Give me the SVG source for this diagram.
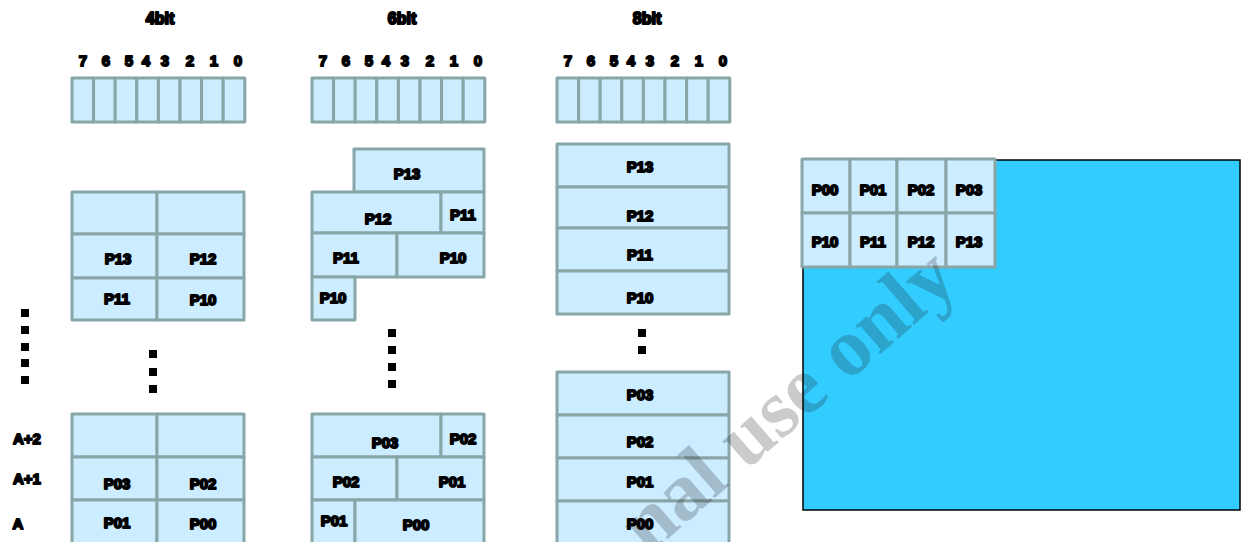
<svg xmlns="http://www.w3.org/2000/svg" width="1243" height="542" viewBox="0 0 1243 542">
<style>
.c{fill:#CCECFF;stroke:#88A5A7;stroke-width:3;stroke-linejoin:round}
.t{font-family:"Liberation Sans",Arial,sans-serif;font-weight:bold;font-size:15px;fill:#000;stroke:#000;stroke-width:1.8;stroke-linejoin:round;text-anchor:middle;dominant-baseline:central}
.h{font-size:16px;stroke-width:2}
.d{fill:#000}
.wm{font-family:"Liberation Serif","Times New Roman",serif;font-weight:bold;font-size:82px;fill:#111;fill-opacity:0.22}
</style>
<rect width="1243" height="542" fill="#fff"/>

<g id="title-4bit"><text class="t h" x="160" y="18">4bit</text></g>
<g id="title-6bit"><text class="t h" x="402" y="18">6bit</text></g>
<g id="title-8bit"><text class="t h" x="647" y="18">8bit</text></g>

<g id="bits-4bit">
<g class="t"><text x="83" y="60">7</text><text x="106" y="60">6</text><text x="129" y="60">5</text><text x="146" y="60">4</text><text x="165" y="60">3</text><text x="190" y="60">2</text><text x="214" y="60">1</text><text x="238" y="60">0</text></g>
<rect class="c" x="72" y="78" width="21.6" height="44"/><rect class="c" x="93.6" y="78" width="21.6" height="44"/><rect class="c" x="115.2" y="78" width="21.6" height="44"/><rect class="c" x="136.8" y="78" width="21.6" height="44"/><rect class="c" x="158.4" y="78" width="21.6" height="44"/><rect class="c" x="180" y="78" width="21.6" height="44"/><rect class="c" x="201.6" y="78" width="21.6" height="44"/><rect class="c" x="223.2" y="78" width="21.6" height="44"/>
</g>
<g id="bits-6bit">
<g class="t"><text x="323" y="60">7</text><text x="346" y="60">6</text><text x="369" y="60">5</text><text x="386" y="60">4</text><text x="405" y="60">3</text><text x="430" y="60">2</text><text x="454" y="60">1</text><text x="478" y="60">0</text></g>
<rect class="c" x="312" y="78" width="21.6" height="44"/><rect class="c" x="333.6" y="78" width="21.6" height="44"/><rect class="c" x="355.2" y="78" width="21.6" height="44"/><rect class="c" x="376.8" y="78" width="21.6" height="44"/><rect class="c" x="398.4" y="78" width="21.6" height="44"/><rect class="c" x="420" y="78" width="21.6" height="44"/><rect class="c" x="441.6" y="78" width="21.6" height="44"/><rect class="c" x="463.2" y="78" width="21.6" height="44"/>
</g>
<g id="bits-8bit">
<g class="t"><text x="568" y="60">7</text><text x="591" y="60">6</text><text x="614" y="60">5</text><text x="631" y="60">4</text><text x="650" y="60">3</text><text x="675" y="60">2</text><text x="699" y="60">1</text><text x="723" y="60">0</text></g>
<rect class="c" x="557" y="78" width="21.6" height="44"/><rect class="c" x="578.6" y="78" width="21.6" height="44"/><rect class="c" x="600.2" y="78" width="21.6" height="44"/><rect class="c" x="621.8" y="78" width="21.6" height="44"/><rect class="c" x="643.4" y="78" width="21.6" height="44"/><rect class="c" x="665" y="78" width="21.6" height="44"/><rect class="c" x="686.6" y="78" width="21.6" height="44"/><rect class="c" x="708.2" y="78" width="21.6" height="44"/>
</g>

<g id="block-4bit-upper">
<rect class="c" x="72" y="192" width="85" height="42"/><rect class="c" x="157" y="192" width="87" height="42"/>
<rect class="c" x="72" y="234" width="85" height="44"/><rect class="c" x="157" y="234" width="87" height="44"/>
<rect class="c" x="72" y="278" width="85" height="42"/><rect class="c" x="157" y="278" width="87" height="42"/>
<g class="t"><text x="118" y="258">P13</text><text x="203" y="258">P12</text><text x="117" y="298">P11</text><text x="203" y="299">P10</text></g>
</g>
<g id="block-4bit-lower">
<rect class="c" x="72" y="414" width="85" height="43"/><rect class="c" x="157" y="414" width="87" height="43"/>
<rect class="c" x="72" y="457" width="85" height="43"/><rect class="c" x="157" y="457" width="87" height="43"/>
<rect class="c" x="72" y="500" width="85" height="44"/><rect class="c" x="157" y="500" width="87" height="44"/>
<g class="t"><text x="117" y="483">P03</text><text x="203" y="483">P02</text><text x="117" y="522">P01</text><text x="203" y="523">P00</text></g>
</g>
<g id="addr-labels" class="t">
<text x="27" y="438">A+2</text><text x="27" y="478">A+1</text><text x="18" y="523">A</text>
</g>

<g id="block-6bit-upper">
<rect class="c" x="354" y="149" width="130" height="43"/>
<rect class="c" x="312" y="192" width="129" height="41"/><rect class="c" x="441" y="192" width="43" height="41"/>
<rect class="c" x="312" y="233" width="85" height="44"/><rect class="c" x="397" y="233" width="87" height="44"/>
<rect class="c" x="312" y="277" width="43" height="43"/>
<g class="t"><text x="407" y="173">P13</text><text x="378" y="218">P12</text><text x="463" y="214">P11</text><text x="346" y="257">P11</text><text x="453" y="257">P10</text><text x="333" y="297">P10</text></g>
</g>
<g id="block-6bit-lower">
<rect class="c" x="312" y="414" width="129" height="43"/><rect class="c" x="441" y="414" width="43" height="43"/>
<rect class="c" x="312" y="457" width="85" height="43"/><rect class="c" x="397" y="457" width="87" height="43"/>
<rect class="c" x="312" y="500" width="43" height="44"/><rect class="c" x="355" y="500" width="129" height="44"/>
<g class="t"><text x="385" y="442">P03</text><text x="463" y="438">P02</text><text x="346" y="481">P02</text><text x="452" y="481">P01</text><text x="334" y="520">P01</text><text x="416" y="524">P00</text></g>
</g>

<g id="block-8bit-upper">
<rect class="c" x="557" y="144" width="172" height="43"/>
<rect class="c" x="557" y="187" width="172" height="41"/>
<rect class="c" x="557" y="228" width="172" height="43"/>
<rect class="c" x="557" y="271" width="172" height="43"/>
<g class="t"><text x="640" y="166">P13</text><text x="640" y="215">P12</text><text x="640" y="254">P11</text><text x="640" y="297">P10</text></g>
</g>
<g id="block-8bit-lower">
<rect class="c" x="557" y="372" width="172" height="43"/>
<rect class="c" x="557" y="415" width="172" height="43"/>
<rect class="c" x="557" y="458" width="172" height="43"/>
<rect class="c" x="557" y="501" width="172" height="44"/>
<g class="t"><text x="640" y="394">P03</text><text x="640" y="441">P02</text><text x="640" y="481">P01</text><text x="640" y="523">P00</text></g>
</g>

<g id="ellipsis-left" class="d">
<rect x="21" y="309" width="8" height="8"/><rect x="21" y="326" width="8" height="8"/><rect x="21" y="343" width="8" height="8"/><rect x="21" y="359" width="8" height="8"/><rect x="21" y="376" width="8" height="8"/>
</g>
<g id="ellipsis-4bit" class="d">
<rect x="149" y="350" width="8" height="8"/><rect x="149" y="368" width="8" height="8"/><rect x="149" y="385" width="8" height="8"/>
</g>
<g id="ellipsis-6bit" class="d">
<rect x="388" y="329" width="8" height="8"/><rect x="388" y="346" width="8" height="8"/><rect x="388" y="363" width="8" height="8"/><rect x="388" y="380" width="8" height="8"/>
</g>
<g id="ellipsis-8bit" class="d">
<rect x="638" y="329" width="8" height="8"/><rect x="638" y="346" width="8" height="8"/>
</g>

<g id="screen">
<rect x="803" y="160" width="437" height="350" fill="#33CCFF" stroke="#000" stroke-width="1.5"/>
<rect class="c" x="802" y="159" width="48" height="54"/><rect class="c" x="850" y="159" width="47" height="54"/><rect class="c" x="897" y="159" width="49" height="54"/><rect class="c" x="946" y="159" width="49" height="54"/>
<rect class="c" x="802" y="213" width="48" height="54"/><rect class="c" x="850" y="213" width="47" height="54"/><rect class="c" x="897" y="213" width="49" height="54"/><rect class="c" x="946" y="213" width="49" height="54"/>
<g class="t"><text x="825" y="189">P00</text><text x="873" y="189">P01</text><text x="921" y="189">P02</text><text x="969" y="189">P03</text>
<text x="825" y="241">P10</text><text x="873" y="241">P11</text><text x="921" y="241">P12</text><text x="969" y="241">P13</text></g>
</g>

<g id="watermark">
<text class="wm" x="0" y="0" transform="translate(648,556) rotate(-41)">nal use only</text>
</g>
</svg>
